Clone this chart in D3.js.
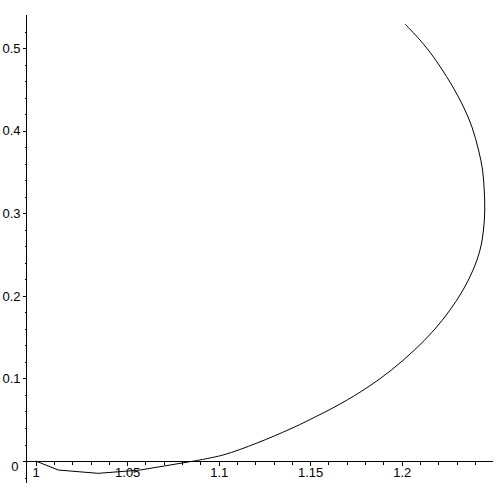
<!DOCTYPE html>
<html>
<head>
<meta charset="utf-8">
<script src="https://cdn.jsdelivr.net/npm/d3@7"></script>
<style>
  html, body { margin: 0; padding: 0; background: #fff; }
  svg { display: block; }
  text { font-family: "Liberation Sans", Arial, sans-serif; font-size: 13px; fill: #000; }
</style>
</head>
<body>
<svg id="chart" width="497" height="497"></svg>
<script>
// Curve samples (x, y)
const curveX = [1.0000, 1.0124, 1.0342, 1.0570, 1.0843, 1.1024, 1.1209, 1.1390, 1.1493, 1.1663,
                1.1816, 1.1944, 1.2070, 1.2177, 1.2264, 1.2335, 1.2390, 1.2428, 1.2447, 1.2454,
                1.2451, 1.2442, 1.2420, 1.2384, 1.2338, 1.2267, 1.2174, 1.2100, 1.2018];
const curveY = [0.0000, -0.0109, -0.0149, -0.0109, -0.0008, 0.0073, 0.0218, 0.0387, 0.0496, 0.0690,
                0.0896, 0.1102, 0.1344, 0.1586, 0.1828, 0.2070, 0.2312, 0.2555, 0.2797, 0.3039,
                0.3281, 0.3523, 0.3765, 0.4044, 0.4286, 0.4576, 0.4891, 0.5097, 0.5291];
const kinkCount = 5; // first samples are joined by straight segments

const xMajorTicks = [1, 1.05, 1.1, 1.15, 1.2];
const xTickLabels = ["1", "1.05", "1.1", "1.15", "1.2"];
const xMinorTicks = [1.01, 1.02, 1.03, 1.04, 1.06, 1.07, 1.08, 1.09, 1.11, 1.12, 1.13, 1.14,
                     1.16, 1.17, 1.18, 1.19, 1.21, 1.22, 1.23, 1.24];
const yMajorTicks = [0.1, 0.2, 0.3, 0.4, 0.5];
const yTickLabels = ["0.1", "0.2", "0.3", "0.4", "0.5"];
const yMinorTicks = [-0.02, 0.02, 0.04, 0.06, 0.08, 0.12, 0.14, 0.16, 0.18, 0.22, 0.24, 0.26,
                     0.28, 0.32, 0.34, 0.36, 0.38, 0.42, 0.44, 0.46, 0.48, 0.52];

const svg = d3.select("#chart");

const x = d3.scaleLinear().domain([0.9947, 1.2499]).range([26, 493]);
const y = d3.scaleLinear().domain([-0.0266, 0.54]).range([483, 15]);

const x0 = x(x.domain()[0]);
const y0 = y(0);

// X axis (at y = 0)
const gx = svg.append("g")
  .attr("transform", `translate(0,${Math.round(y0) + 0.5})`)
  .attr("shape-rendering", "crispEdges");
gx.append("line").attr("x1", x(x.domain()[0])).attr("x2", x(x.domain()[1]))
  .attr("stroke", "#000");
gx.append("g").call(d3.axisBottom(x).tickValues(xMinorTicks).tickSize(3).tickFormat(""))
  .call(g => g.select(".domain").remove());
gx.append("g").call(d3.axisBottom(x).tickValues(xMajorTicks).tickSize(4).tickPadding(2.5)
    .tickFormat((d, i) => xTickLabels[i]))
  .call(g => g.select(".domain").remove())
  .call(g => g.selectAll("text").style("font-family", "'Liberation Sans', Arial, sans-serif")
    .style("font-size", "13px"));

// Y axis (at left edge of x domain)
const gy = svg.append("g")
  .attr("transform", `translate(${Math.round(x0) + 0.5},0)`)
  .attr("shape-rendering", "crispEdges");
gy.append("line").attr("y1", y(y.domain()[0])).attr("y2", y(y.domain()[1]))
  .attr("stroke", "#000");
gy.append("g").call(d3.axisLeft(y).tickValues(yMinorTicks).tickSize(2).tickFormat(""))
  .call(g => g.select(".domain").remove());
gy.append("g").call(d3.axisLeft(y).tickValues([0].concat(yMajorTicks)).tickSize(4).tickPadding(2)
    .tickFormat((d, i) => i === 0 ? "0" : yTickLabels[i - 1]))
  .call(g => g.select(".domain").remove())
  .call(g => g.selectAll("text").style("font-family", "'Liberation Sans', Arial, sans-serif")
    .style("font-size", "13px"))
  .call(g => g.selectAll(".tick").filter(d => d === 0).select("text").attr("dy", "0.7em").attr("x", -8));

// Curve
const pts = curveX.map((v, i) => [v, curveY[i]]);
const lineLin = d3.line().x(d => x(d[0])).y(d => y(d[1]));
const lineSmooth = d3.line().x(d => x(d[0])).y(d => y(d[1])).curve(d3.curveCatmullRom.alpha(0.5));
svg.append("path")
  .datum(pts.slice(0, kinkCount))
  .attr("fill", "none").attr("stroke", "#000").attr("stroke-width", 1)
  .attr("d", lineLin);
svg.append("path")
  .datum(pts.slice(kinkCount - 1))
  .attr("fill", "none").attr("stroke", "#000").attr("stroke-width", 1)
  .attr("d", lineSmooth);
</script>
</body>
</html>
